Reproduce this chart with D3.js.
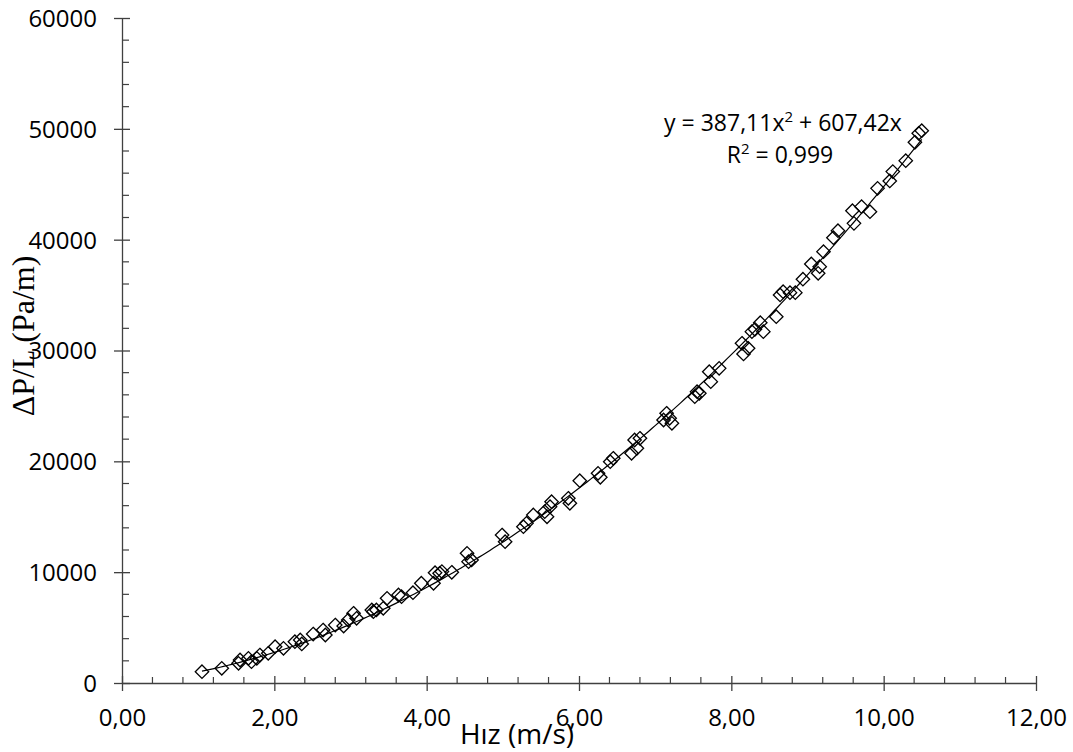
<!DOCTYPE html>
<html><head><meta charset="utf-8">
<script src="https://cdn.jsdelivr.net/npm/d3@7"></script>
<style>body{margin:0;background:#fff}svg{display:block}</style>
</head><body>
<script>
const velocity = [1.05,1.31,1.53,1.55,1.66,1.70,1.77,1.81,1.92,2.01,2.12,2.27,2.34,2.36,2.51,2.64,2.67,2.80,2.91,2.97,3.04,3.08,3.28,3.30,3.34,3.43,3.48,3.63,3.67,3.82,3.93,4.09,4.11,4.17,4.20,4.33,4.53,4.55,4.59,4.99,5.03,5.27,5.31,5.40,5.55,5.58,5.62,5.64,5.86,5.88,6.01,6.25,6.28,6.41,6.45,6.69,6.73,6.76,6.80,7.11,7.15,7.19,7.22,7.52,7.55,7.58,7.71,7.73,7.84,8.14,8.16,8.22,8.27,8.31,8.38,8.42,8.59,8.64,8.68,8.77,8.84,8.94,9.05,9.14,9.16,9.21,9.34,9.40,9.59,9.61,9.71,9.82,9.92,10.08,10.12,10.29,10.41,10.46,10.50];
const pressureDrop = [1020,1325,1775,2075,2225,1920,2225,2525,2680,3275,3130,3725,3880,3520,4420,4780,4330,5230,5140,5680,6290,5840,6590,6430,6590,6740,7640,7940,7790,8150,9000,9000,9950,9900,10050,9990,11700,10950,11100,13350,12750,14100,14410,15160,15460,15000,15910,16360,16665,16215,18250,18920,18560,19970,20275,20725,21925,21180,22080,23730,24335,23885,23430,25830,26280,26140,28090,27190,28390,30650,29690,30200,31700,31910,32510,31700,33050,35010,35310,35220,35220,36430,37805,36965,37565,38920,40180,40810,42615,41470,42980,42525,44630,45295,46140,47130,48785,49600,49833];
const trendCoef = [387.11, 607.42]; // a*x^2 + b*x
const xTicks = [0,2,4,6,8,10,12];
const yTicks = [0,10000,20000,30000,40000,50000,60000];
const eqLine1 = ["y = 387,11x", "2", " + 607,42x"];
const eqLine2 = ["R", "2", " = 0,999"];

const W = 1073, H = 752;
const svg = d3.select("body").append("svg").attr("width", W).attr("height", H);
const x = d3.scaleLinear().domain([0,12]).range([122,1036]);
const y = d3.scaleLinear().domain([0,60000]).range([683,18]);
const axisColor = "#404040";
const font = "'Open Sans', sans-serif";

const xMinor = d3.range(0, 12.0001, 0.4).filter(v => Math.abs(v/2 - Math.round(v/2)) > 1e-6);
const yMinor = d3.range(0, 60001, 2000).filter(v => v % 10000 !== 0);

const gx = svg.append("g").attr("transform", `translate(0,${y(0)})`)
  .call(d3.axisBottom(x).tickValues(xTicks).tickSize(0).tickFormat(d => d3.format(".2f")(d).replace(".", ",")));
gx.select(".domain").attr("stroke", axisColor).attr("stroke-width", 1.3);
gx.selectAll(".tick text").attr("font-family", font).attr("font-size", 24).attr("fill", "#000").attr("dy", null).attr("y", 43);
gx.selectAll(".tick").append("line").attr("y1", -7).attr("y2", 8).attr("stroke", axisColor).attr("stroke-width", 1.3);
gx.selectAll(".minor").data(xMinor).enter().append("line").attr("class","minor")
  .attr("x1", d => x(d)).attr("x2", d => x(d)).attr("y1", -6).attr("y2", 0).attr("stroke", axisColor).attr("stroke-width", 1.2);

const gy = svg.append("g").attr("transform", `translate(${x(0)},0)`)
  .call(d3.axisLeft(y).tickValues(yTicks).tickSize(0).tickFormat(d => String(d)));
gy.select(".domain").attr("stroke", axisColor).attr("stroke-width", 1.3);
gy.selectAll(".tick text").attr("font-family", font).attr("font-size", 24).attr("fill", "#000")
  .attr("text-anchor", "end").attr("x", -25).attr("dy", "0.35em");
gy.selectAll(".tick").append("line").attr("x1", -8).attr("x2", 8).attr("stroke", axisColor).attr("stroke-width", 1.3);
gy.selectAll(".minor").data(yMinor).enter().append("line").attr("class","minor")
  .attr("y1", d => y(d)).attr("y2", d => y(d)).attr("x1", 0).attr("x2", 7).attr("stroke", axisColor).attr("stroke-width", 1.2);

// trendline
const vMin = d3.min(velocity), vMax = d3.max(velocity);
const trend = d3.range(vMin, vMax + 1e-9, (vMax - vMin)/200).map(v => [v, trendCoef[0]*v*v + trendCoef[1]*v]);
svg.append("path").datum(trend)
  .attr("d", d3.line().x(d => x(d[0])).y(d => y(d[1])))
  .attr("fill", "none").attr("stroke", "#000").attr("stroke-width", 1.2);

// markers
const pts = velocity.map((v,i) => [v, pressureDrop[i]]);
svg.append("g").selectAll("path").data(pts).enter().append("path")
  .attr("d", d3.symbol().type(d3.symbolDiamond2).size(115)())
  .attr("transform", d => `translate(${x(d[0])},${y(d[1])})`)
  .attr("fill", "none").attr("stroke", "#000").attr("stroke-width", 1.3);

// equation
function eqText(parts, cx, by) {
  const t = svg.append("text").attr("x", cx).attr("y", by).attr("text-anchor", "middle")
    .attr("font-family", font).attr("font-size", 23).attr("fill", "#000");
  t.append("tspan").text(parts[0]);
  t.append("tspan").text(parts[1]).attr("font-size", 15).attr("dy", -9);
  t.append("tspan").text(parts[2]).attr("dy", 9);
}
eqText(eqLine1, 783, 131);
eqText(eqLine2, 780, 163);

// axis titles
svg.append("text").attr("x", 517).attr("y", 744).attr("text-anchor", "middle")
  .attr("font-family", font).attr("font-size", 28).attr("fill", "#000").text("Hız (m/s)");
svg.append("text").attr("transform", "translate(34,336) rotate(-90)").attr("text-anchor", "middle")
  .attr("font-family", "'Liberation Serif', 'Times New Roman', serif").attr("font-size", 32).attr("fill", "#000").text("ΔP/L (Pa/m)");
</script>
</body></html>
